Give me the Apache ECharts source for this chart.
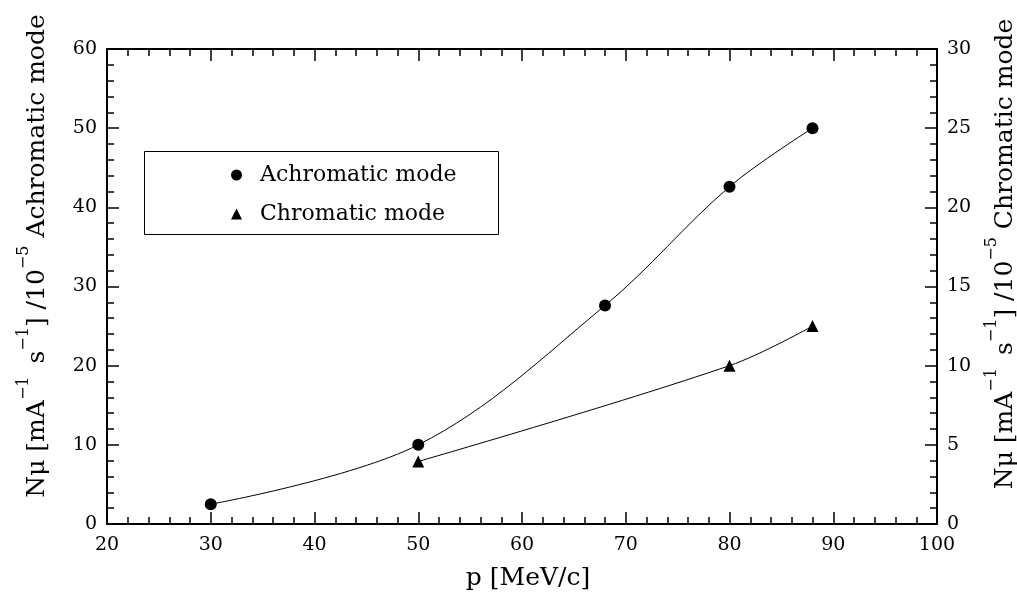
<!DOCTYPE html>
<html>
<head>
<meta charset="utf-8">
<script src="https://cdn.jsdelivr.net/npm/echarts@6/dist/echarts.min.js"></script>
<style>
html,body{margin:0;padding:0;background:#fff;}
#main{width:1017px;height:594px;}
</style>
</head>
<body>
<div id="main"></div>
<script>
// data
var achroP = [30, 50, 68, 80, 88];
var achroN = [2.5, 10, 27.6, 42.6, 50];
var chromP = [50, 80, 88];
var chromN = [3.95, 10, 12.5];

var font = 'DejaVu Serif';
var fs = 19;

function pairs(xs, ys){
	var out = [];
	for (var i = 0; i < xs.length; i++) out.push([xs[i], ys[i]]);
	return out;
}

var titleRich = {
	b: {fontFamily: font, fontSize: 25, fill: '#000', color: '#000', lineHeight: 34, verticalAlign: 'bottom'},
	sup: {fontFamily: font, fontSize: 16, fill: '#000', color: '#000', lineHeight: 34, verticalAlign: 'top'}
};
var yTitle = '{b|Nμ [mA}{sup|−1 }{b| s}{sup|−1}{b|] /10}{sup|−5}{b| %s}';

function sideTitle(x, y, txt){
	return {
		type: 'text', x: x, y: y, rotation: Math.PI / 2,
		style: {text: yTitle.replace('%s', txt), rich: titleRich, align: 'center', verticalAlign: 'middle'}
	};
}

var chart = echarts.init(document.getElementById('main'));
var frameLine = {show: true, onZero: false, lineStyle: {color: '#000', width: 2}};
var tick = {show: true, inside: true, length: 12, lineStyle: {color: '#000', width: 1.5}};
var minor = {show: true, splitNumber: 5, length: 7, lineStyle: {color: '#000', width: 1.5}};

chart.setOption({
	animation: false,
	backgroundColor: '#fff',
	grid: {left: 107, right: 80, top: 49, bottom: 70},
	xAxis: [{
		type: 'value', position: 'bottom', min: 20, max: 100, interval: 10,
		axisLine: frameLine, axisTick: tick, minorTick: minor,
		splitLine: {show: false},
		axisLabel: {fontFamily: font, fontSize: fs, color: '#000', margin: 12}
	}, {
		type: 'value', position: 'top', min: 20, max: 100, interval: 10,
		axisLine: frameLine, axisTick: tick, minorTick: minor,
		splitLine: {show: false}, axisLabel: {show: false}
	}],
	yAxis: [{
		type: 'value', position: 'left', min: 0, max: 60, interval: 10,
		axisLine: frameLine, axisTick: tick, minorTick: minor,
		splitLine: {show: false},
		axisLabel: {fontFamily: font, fontSize: fs, color: '#000', margin: 10}
	}, {
		type: 'value', position: 'right', min: 0, max: 30, interval: 5,
		axisLine: frameLine, axisTick: tick, minorTick: minor,
		splitLine: {show: false},
		axisLabel: {fontFamily: font, fontSize: fs, color: '#000', margin: 10}
	}],
	legend: {
		orient: 'vertical', left: 226, top: 159, itemWidth: 11, itemHeight: 11, itemGap: 17,
		textStyle: {fontFamily: font, fontSize: 22, color: '#000', padding: [0, 0, 0, 13]},
		data: [{name: 'Achromatic mode', icon: 'circle'}, {name: 'Chromatic mode', icon: 'triangle'}]
	},
	graphic: [{
		type: 'rect', left: 142, top: 149,
		shape: {width: 354, height: 83},
		style: {fill: 'none', stroke: '#000', lineWidth: 1}
	},
	sideTitle(33, 256, 'Achromatic mode'),
	sideTitle(1001, 254, 'Chromatic mode'),
	{
		type: 'text', x: 528, y: 578,
		style: {text: 'p [MeV/c]', font: '25px "DejaVu Serif"', fill: '#000', align: 'center', verticalAlign: 'middle'}
	}],
	series: [{
		name: 'Achromatic mode', type: 'line', xAxisIndex: 0, yAxisIndex: 0,
		data: pairs(achroP, achroN), smooth: 0.35,
		symbol: 'circle', symbolSize: 12,
		lineStyle: {color: '#000', width: 1},
		itemStyle: {color: '#000'}
	}, {
		name: 'Chromatic mode', type: 'line', xAxisIndex: 0, yAxisIndex: 1,
		data: pairs(chromP, chromN), smooth: 0.35,
		symbol: 'triangle', symbolSize: 12,
		lineStyle: {color: '#000', width: 1},
		itemStyle: {color: '#000'}
	}]
});
</script>
</body>
</html>
